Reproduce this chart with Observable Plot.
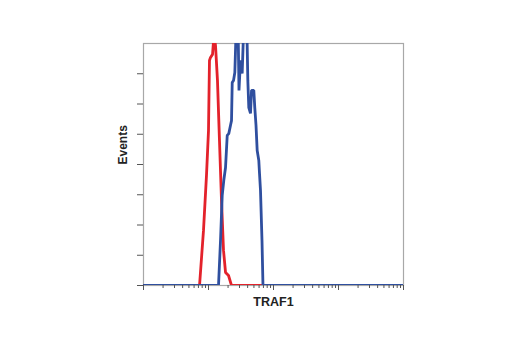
<!DOCTYPE html>
<html>
<head>
<meta charset="utf-8">
<script src="https://cdn.jsdelivr.net/npm/d3@7"></script>
<script src="https://cdn.jsdelivr.net/npm/@observablehq/plot@0.6"></script>
<style>
  html, body { margin: 0; padding: 0; background: #fff; }
  #chart { width: 520px; height: 350px; }
</style>
</head>
<body>
<div id="chart"></div>
<script>
// Histogram outlines: x in decades (log10 of intensity), y in event-axis units (0..8 frame)
const redLogX = [0, 0.862, 0.923, 0.969, 1.0, 1.015, 1.031, 1.062, 1.085, 1.108, 1.138, 1.169, 1.2, 1.231, 1.262, 1.308, 1.354, 4];
const redY    = [0, 0,     1.82,  3.64,  5.12, 7.44, 7.54, 7.64, 8.3, 7.93, 6.78, 4.79, 2.81, 1.16, 0.43, 0.33, 0, 0];

const blueLogX = [0, 1.154, 1.185, 1.211, 1.235, 1.262, 1.288, 1.312, 1.338, 1.354, 1.365, 1.385, 1.405, 1.423, 1.457, 1.469, 1.492, 1.518, 1.538, 1.592, 1.605, 1.620, 1.646, 1.662, 1.697, 1.712, 1.731, 1.749, 1.774, 1.785, 1.800, 1.823, 1.838, 4];
const blueY    = [0, 0,     1.49,  2.98,  3.47,  3.90,  4.96,  5.02,  5.29,  5.45,  6.71,  6.78,  7.04,  8.3,   8.3,   6.45,  7.44,  7.01,  8.3,   8.3,   6.78,  5.88,  5.69,  6.45,  6.45,  5.88,  5.29,  4.46,  4.13,  3.70,  3.14,  1.49,  0,     0];

const yTicks = [0, 1, 2, 3, 4, 5, 6, 7];
const majorXTicks = [1, 10, 100, 1000, 10000];
const minorMultipliers = [2, 3, 4, 5, 6, 7, 8, 9];
const xLabel = "TRAF1";
const yLabel = "Events";

const red = redLogX.map((lx, i) => ({x: 10 ** lx, y: redY[i]}));
const blue = blueLogX.map((lx, i) => ({x: 10 ** lx, y: blueY[i]}));
const minorXTicks = majorXTicks.slice(0, -1).flatMap(m => minorMultipliers.map(k => k * m));
const noLabel = () => "";

const chart = Plot.plot({
  width: 520,
  height: 350,
  marginLeft: 143,
  marginRight: 117,
  marginTop: 43,
  marginBottom: 65,
  style: {fontFamily: "Liberation Sans, Arial, sans-serif", background: "#fff"},
  x: {type: "log", domain: [1, 10000]},
  y: {domain: [0, 8]},
  marks: [
    Plot.frame({stroke: "#a8a8a8", strokeWidth: 1.2}),
    Plot.axisY({ticks: yTicks, tickSize: 6, tickFormat: noLabel, label: null, stroke: "#555"}),
    Plot.axisX({ticks: minorXTicks, tickSize: 3, tickFormat: noLabel, label: null, stroke: "#555"}),
    Plot.axisX({ticks: majorXTicks, tickSize: 5, tickFormat: noLabel, label: null, stroke: "#555"}),
    Plot.line(red, {x: "x", y: "y", stroke: "#e3222b", strokeWidth: 2.8, clip: true, strokeLinejoin: "miter"}),
    Plot.line(blue, {x: "x", y: "y", stroke: "#2f4f9f", strokeWidth: 2.8, clip: true, strokeLinejoin: "miter"}),
    Plot.text([yLabel], {frameAnchor: "left", text: d => d, rotate: -90, dx: -20, fontSize: 12, fontWeight: "bold", fill: "#222"}),
    Plot.text([xLabel], {frameAnchor: "bottom", text: d => d, dy: 20, fontSize: 12.5, fontWeight: "bold", fill: "#222"})
  ]
});
document.getElementById("chart").appendChild(chart);
</script>
</body>
</html>
